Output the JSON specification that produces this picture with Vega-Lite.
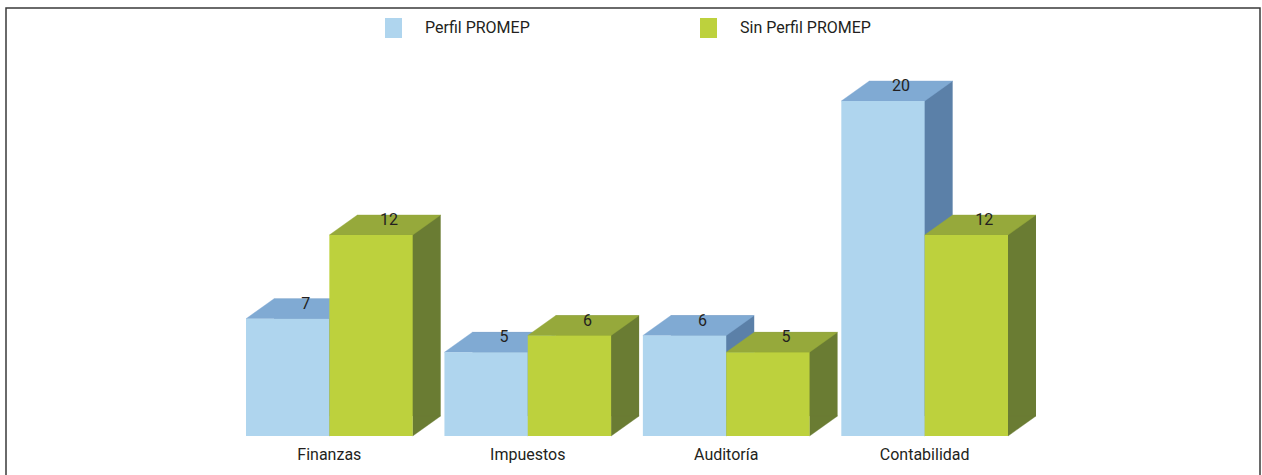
{
  "$schema": "https://vega.github.io/schema/vega-lite/v6.json",
  "width": 1254,
  "height": 469,
  "autosize": "none",
  "padding": {"left": 6, "top": 8, "right": 2, "bottom": 0},
  "background": "#ffffff",
  "data": {
    "values": [
      {"area": "Finanzas", "grupo": "Perfil PROMEP", "n": 7},
      {"area": "Finanzas", "grupo": "Sin Perfil PROMEP", "n": 12},
      {"area": "Impuestos", "grupo": "Perfil PROMEP", "n": 5},
      {"area": "Impuestos", "grupo": "Sin Perfil PROMEP", "n": 6},
      {"area": "Auditoría", "grupo": "Perfil PROMEP", "n": 6},
      {"area": "Auditoría", "grupo": "Sin Perfil PROMEP", "n": 5},
      {"area": "Contabilidad", "grupo": "Perfil PROMEP", "n": 20},
      {"area": "Contabilidad", "grupo": "Sin Perfil PROMEP", "n": 12}
    ]
  },
  "encoding": {
    "x": {
      "field": "area",
      "type": "nominal",
      "sort": null,
      "axis": null,
      "scale": {
        "type": "band",
        "domain": ["Finanzas", "Impuestos", "Auditoría", "Contabilidad"],
        "range": [240, 1002],
        "paddingInner": 0.16,
        "paddingOuter": 0
      }
    },
    "y": {
      "field": "n",
      "type": "quantitative",
      "axis": null,
      "scale": {"domain": [0, 20], "range": [428, 93], "nice": false}
    }
  },
  "layer": [
    {
      "transform": [{"filter": "datum.grupo == 'Perfil PROMEP'"}],
      "mark": {"type": "bar", "color": "#5B80A8", "width": 83.34, "xOffset": -13.67, "yOffset": -20, "y2Offset": -20},
      "encoding": {"y2": {"datum": 0}}
    },
    {
      "transform": [{"filter": "datum.grupo == 'Perfil PROMEP'"}],
      "mark": {"type": "point", "shape": "M0.4167,-0.2L0.4167,0L0.6967,-0.2Z", "size": 40000, "filled": true, "opacity": 1, "color": "#5B80A8", "stroke": "#5B80A8", "strokeWidth": 0.4},
      "encoding": {"xOffset": {"field": "grupo", "type": "nominal"}, "y": {"datum": 0}}
    },
    {
      "transform": [{"filter": "datum.grupo == 'Perfil PROMEP'"}],
      "mark": {"type": "point", "shape": "M-0.4167,0L0.4167,0L0.6967,-0.2L-0.1367,-0.2Z", "size": 40000, "filled": true, "opacity": 1, "color": "#80AAD3", "stroke": "#80AAD3", "strokeWidth": 0.4},
      "encoding": {"xOffset": {"field": "grupo", "type": "nominal"}}
    },
    {
      "transform": [{"filter": "datum.grupo == 'Perfil PROMEP'"}],
      "mark": {"type": "bar"},
      "encoding": {
        "xOffset": {
          "field": "grupo",
          "type": "nominal",
          "scale": {"domain": ["Perfil PROMEP", "Sin Perfil PROMEP"], "paddingInner": 0, "paddingOuter": 0}
        },
        "y2": {"datum": 0},
        "color": {
          "field": "grupo",
          "type": "nominal",
          "scale": {"domain": ["Perfil PROMEP", "Sin Perfil PROMEP"], "range": ["#AFD5EE", "#BDD13D"]},
          "legend": {
            "orient": "none",
            "legendX": 377.5,
            "legendY": 10,
            "direction": "horizontal",
            "title": null,
            "padding": 0,
            "symbolType": "M-0.85,-1H0.85V1H-0.85Z",
            "symbolSize": 400,
            "symbolStrokeWidth": 0,
            "labelFont": "Roboto",
            "labelFontSize": 16,
            "labelColor": "#231f20",
            "labelOffset": 21.5,
            "labelLimit": 300,
            "columnPadding": 168
          }
        }
      }
    },
    {
      "transform": [{"filter": "datum.grupo == 'Sin Perfil PROMEP'"}],
      "mark": {"type": "bar", "color": "#6A7C33", "width": 83.34, "xOffset": 69.67, "yOffset": -20, "y2Offset": -20},
      "encoding": {"y2": {"datum": 0}}
    },
    {
      "transform": [{"filter": "datum.grupo == 'Sin Perfil PROMEP'"}],
      "mark": {"type": "point", "shape": "M0.4167,-0.2L0.4167,0L0.6967,-0.2Z", "size": 40000, "filled": true, "opacity": 1, "color": "#6A7C33", "stroke": "#6A7C33", "strokeWidth": 0.4},
      "encoding": {"xOffset": {"field": "grupo", "type": "nominal"}, "y": {"datum": 0}}
    },
    {
      "transform": [{"filter": "datum.grupo == 'Sin Perfil PROMEP'"}],
      "mark": {"type": "point", "shape": "M-0.4167,0L0.4167,0L0.6967,-0.2L-0.1367,-0.2Z", "size": 40000, "filled": true, "opacity": 1, "color": "#96A93B", "stroke": "#96A93B", "strokeWidth": 0.4},
      "encoding": {"xOffset": {"field": "grupo", "type": "nominal"}}
    },
    {
      "transform": [{"filter": "datum.grupo == 'Sin Perfil PROMEP'"}],
      "mark": {"type": "bar"},
      "encoding": {
        "xOffset": {"field": "grupo", "type": "nominal"},
        "y2": {"datum": 0},
        "color": {"field": "grupo", "type": "nominal"}
      }
    },
    {
      "mark": {"type": "text", "dx": 18, "dy": -15, "baseline": "middle", "align": "center", "font": "Roboto", "fontSize": 16, "color": "#231f20"},
      "encoding": {
        "xOffset": {"field": "grupo", "type": "nominal"},
        "text": {"field": "n", "type": "quantitative"}
      }
    },
    {
      "transform": [{"filter": "datum.grupo == 'Perfil PROMEP'"}],
      "mark": {"type": "text", "dy": 24, "baseline": "alphabetic", "align": "center", "font": "Roboto", "fontSize": 16, "color": "#231f20"},
      "encoding": {
        "y": {"datum": 0},
        "text": {"field": "area", "type": "nominal"}
      }
    }
  ],
  "config": {
    "view": {"stroke": "#3a3a3a", "strokeWidth": 1.5}
  }
}
